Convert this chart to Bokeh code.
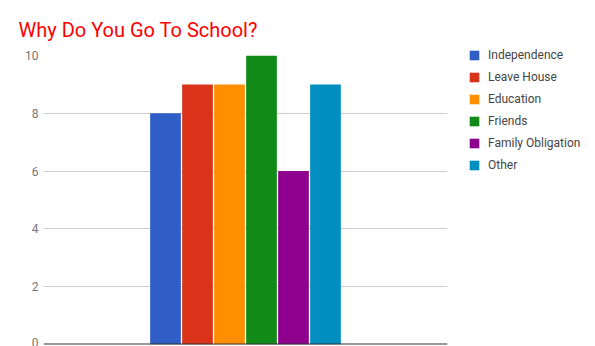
from bokeh.plotting import figure
from bokeh.models import Legend, LegendItem, Span, FixedTicker, Range1d
from bokeh.embed import file_html
from bokeh.resources import INLINE

categories = ["Independence", "Leave House", "Education", "Friends", "Family Obligation", "Other"]
values = [8, 9, 9, 10, 6, 9]
colors = ["#2f5ec6", "#d9331a", "#ff8f00", "#128a18", "#8f008f", "#008fc0"]
y_ticks = [0, 2, 4, 6, 8, 10]

n = len(categories)
step = 0.0792
xs = [(i - (n - 1) / 2) * step for i in range(n)]

p = figure(frame_width=404, frame_height=289, output_backend="svg", toolbar_location=None,
           x_range=Range1d(-0.5, 0.5), y_range=Range1d(0, 10),
           min_border_left=43, min_border_right=148, min_border_top=55, min_border_bottom=2)

p.title.text = "Why Do You Go To School?"
p.title.text_color = "#ff0000"
p.title.text_font = "Roboto"
p.title.text_font_size = "20px"
p.title.text_font_style = "normal"
p.title.offset = -25
p.title.standoff = 28

renderers = []
for i in range(n):
    r = p.vbar(x=xs[i], top=values[i], width=0.076, bottom=0, color=colors[i], line_color=None)
    renderers.append(r)

p.xaxis.visible = False
p.yaxis.ticker = FixedTicker(ticks=y_ticks)
p.yaxis.axis_line_color = None
p.yaxis.major_tick_line_color = None
p.yaxis.minor_tick_line_color = None
p.yaxis.major_tick_out = 0
p.yaxis.major_tick_in = 0
p.yaxis.major_label_text_color = "#757575"
p.yaxis.major_label_text_font = "Roboto"
p.yaxis.major_label_text_font_size = "12px"
p.yaxis.major_label_standoff = 5
p.ygrid.ticker = FixedTicker(ticks=y_ticks)
p.ygrid.grid_line_color = "#cccccc"
p.xgrid.grid_line_color = None
p.outline_line_color = None

p.add_layout(Span(location=0, dimension="width", line_color="#333333", line_width=2))

legend = Legend(items=[LegendItem(label=categories[i], renderers=[renderers[i]]) for i in range(n)],
                location=(21, 172), margin=0, padding=0, spacing=8,
                glyph_width=12, glyph_height=12, label_standoff=8,
                label_text_font="Roboto", label_text_font_size="12px", label_text_color="#444444",
                border_line_color=None, background_fill_alpha=0)
p.add_layout(legend, "right")

open("out.html", "w").write(file_html(p, INLINE))
